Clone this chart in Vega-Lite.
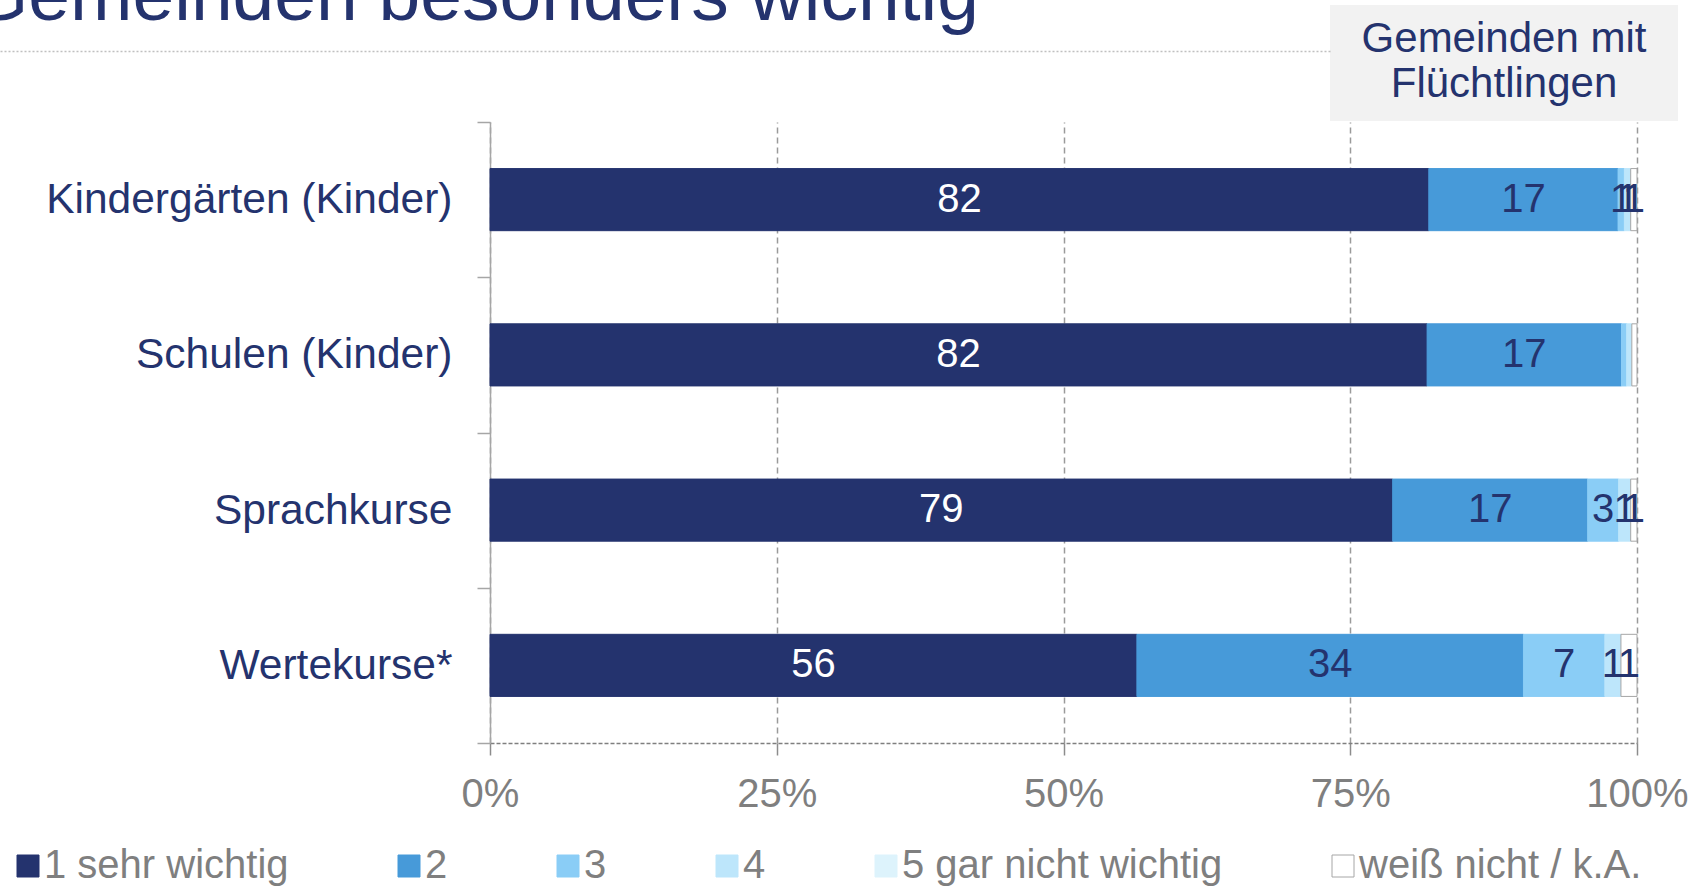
{
  "$schema": "https://vega.github.io/schema/vega-lite/v6.json",
  "width": 1147,
  "height": 621,
  "autosize": {"type": "none"},
  "padding": {"left": 490, "top": 122, "right": 67, "bottom": 143},
  "background": "white",
  "config": {"view": {"stroke": null}, "font": "Liberation Sans"},
  "data": {
    "values": [
      {"item": "Kindergärten (Kinder)", "cat": "1 sehr wichtig", "value": 81.85},
      {"item": "Kindergärten (Kinder)", "cat": "2", "value": 16.5},
      {"item": "Kindergärten (Kinder)", "cat": "3", "value": 0.55},
      {"item": "Kindergärten (Kinder)", "cat": "4", "value": 0.55},
      {"item": "Kindergärten (Kinder)", "cat": "weiß nicht / k.A.", "value": 0.55},
      {"item": "Schulen (Kinder)", "cat": "1 sehr wichtig", "value": 81.7},
      {"item": "Schulen (Kinder)", "cat": "2", "value": 16.95},
      {"item": "Schulen (Kinder)", "cat": "3", "value": 0.45},
      {"item": "Schulen (Kinder)", "cat": "4", "value": 0.45},
      {"item": "Schulen (Kinder)", "cat": "weiß nicht / k.A.", "value": 0.45},
      {"item": "Sprachkurse", "cat": "1 sehr wichtig", "value": 78.7},
      {"item": "Sprachkurse", "cat": "2", "value": 17.0},
      {"item": "Sprachkurse", "cat": "3", "value": 2.7},
      {"item": "Sprachkurse", "cat": "4", "value": 1.05},
      {"item": "Sprachkurse", "cat": "weiß nicht / k.A.", "value": 0.55},
      {"item": "Wertekurse*", "cat": "1 sehr wichtig", "value": 56.4},
      {"item": "Wertekurse*", "cat": "2", "value": 33.7},
      {"item": "Wertekurse*", "cat": "3", "value": 7.1},
      {"item": "Wertekurse*", "cat": "4", "value": 1.4},
      {"item": "Wertekurse*", "cat": "weiß nicht / k.A.", "value": 1.4}
    ]
  },
  "layer": [
    {
      "mark": {"type": "bar", "height": {"band": 0.4}, "strokeWidth": 1},
      "encoding": {
        "y": {
          "field": "item",
          "type": "nominal",
          "sort": ["Kindergärten (Kinder)", "Schulen (Kinder)", "Sprachkurse", "Wertekurse*"],
          "scale": {"paddingInner": 0, "paddingOuter": 0},
          "axis": {
            "title": null,
            "tickBand": "extent",
            "labelFontSize": 42.5,
            "labelFont": "Liberation Sans",
            "labelColor": "#24336E",
            "labelPadding": 25,
            "labelLimit": 600,
            "tickSize": 13,
            "tickColor": "#A6A6A6",
            "tickWidth": 1.5,
            "domainColor": "#A6A6A6",
            "domainWidth": 1.5
          }
        },
        "x": {
          "field": "value",
          "type": "quantitative",
          "stack": "zero",
          "scale": {"domain": [0, 100], "nice": false},
          "axis": {
            "values": [0, 25, 50, 75, 100],
            "labelExpr": "datum.value + '%'",
            "title": null,
            "labelFlush": false,
            "labelFontSize": 40,
            "labelFont": "Liberation Sans",
            "labelColor": "#7F7F7F",
            "labelPadding": 19,
            "tickSize": 12,
            "tickColor": "#8C8C8C",
            "tickWidth": 1.5,
            "domainColor": "#7F7F7F",
            "domainWidth": 1.5,
            "domainDash": [4, 2],
            "grid": true,
            "gridColor": "#9A9A9A",
            "gridWidth": 1.5,
            "gridDash": [6, 4]
          }
        },
        "order": {"field": "cat", "type": "ordinal", "sort": "ascending"},
        "color": {
          "field": "cat",
          "type": "nominal",
          "scale": {
            "domain": ["1 sehr wichtig", "2", "3", "4", "5 gar nicht wichtig", "weiß nicht / k.A."],
            "range": ["#24336E", "#479AD9", "#8ACDF6", "#BDE6FB", "#DDF3FC", "#FFFFFF"]
          },
          "legend": {
            "title": null,
            "orient": "none",
            "legendX": -482,
            "legendY": 724,
            "direction": "horizontal",
            "columnPadding": 100,
            "symbolType": "square",
            "symbolSize": 484,
            "symbolStrokeWidth": 1,
            "labelFontSize": 40,
            "labelFont": "Liberation Sans",
            "labelColor": "#7F7F7F",
            "labelOffset": -4,
            "labelLimit": 1000,
            "padding": 0
          }
        },
        "stroke": {
          "field": "cat",
          "type": "nominal",
          "scale": {
            "domain": ["1 sehr wichtig", "2", "3", "4", "5 gar nicht wichtig", "weiß nicht / k.A."],
            "range": ["#24336E", "#479AD9", "#8ACDF6", "#BDE6FB", "#DDF3FC", "#A6A6A6"]
          },
          "legend": {
            "title": null,
            "orient": "none",
            "legendX": -482,
            "legendY": 724,
            "direction": "horizontal",
            "columnPadding": 100,
            "symbolType": "square",
            "symbolSize": 484,
            "symbolStrokeWidth": 1,
            "labelFontSize": 40,
            "labelFont": "Liberation Sans",
            "labelColor": "#7F7F7F",
            "labelOffset": -4,
            "labelLimit": 1000,
            "padding": 0
          }
        }
      }
    },
    {
      "mark": {"type": "text", "fontSize": 40, "font": "Liberation Sans", "align": "center", "baseline": "middle"},
      "encoding": {
        "y": {"field": "item", "type": "nominal", "sort": ["Kindergärten (Kinder)", "Schulen (Kinder)", "Sprachkurse", "Wertekurse*"]},
        "x": {"field": "value", "type": "quantitative", "stack": "zero", "bandPosition": 0.5},
        "order": {"field": "cat", "type": "ordinal", "sort": "ascending"},
        "detail": {"field": "cat", "type": "nominal"},
        "text": {
          "condition": {"test": "datum.value < 0.5", "value": ""},
          "field": "value",
          "type": "quantitative",
          "format": ".0f"
        },
        "color": {
          "condition": {"test": "datum.cat === '1 sehr wichtig'", "value": "#FFFFFF"},
          "value": "#24336E"
        }
      }
    },
    {
      "data": {"values": []},
      "mark": {"type": "point"},
      "encoding": {
        "shape": {
          "field": "box",
          "type": "nominal",
          "scale": {"domain": ["a", "b"]},
          "legend": {
            "title": ["Gemeinden mit", "Flüchtlingen"],
            "orient": "none",
            "legendX": 840,
            "legendY": -117,
            "direction": "horizontal",
            "columnPadding": 308,
            "padding": 14,
            "fillColor": "#F2F2F2",
            "cornerRadius": 0,
            "symbolSize": 0,
            "symbolOpacity": 0,
            "labelExpr": "''",
            "labelFontSize": 1,
            "titleFont": "Liberation Sans",
            "titleFontSize": 42,
            "titleFontWeight": "normal",
            "titleColor": "#24336E",
            "titleAlign": "center",
            "titleAnchor": "middle",
            "titleLineHeight": 45,
            "titlePadding": 0,
            "titleLimit": 1000
          }
        },
        "strokeDash": {
          "field": "line",
          "type": "nominal",
          "scale": {"domain": ["l"], "range": [[2, 2]]},
          "legend": {
            "title": "Gemeinden besonders wichtig",
            "orient": "none",
            "legendX": -520,
            "legendY": -102,
            "padding": 0,
            "titleFont": "Liberation Sans",
            "titleFontSize": 75,
            "titleFontWeight": "normal",
            "titleColor": "#24336E",
            "titleBaseline": "alphabetic",
            "titleAnchor": "start",
            "titlePadding": -58,
            "titleLimit": 3000,
            "symbolType": "M0,0L100,0",
            "symbolSize": 726,
            "symbolStrokeColor": "#A6A6A6",
            "symbolStrokeWidth": 1.5,
            "symbolFillColor": "transparent",
            "labelExpr": "''",
            "labelFontSize": 1
          }
        }
      }
    }
  ]
}
